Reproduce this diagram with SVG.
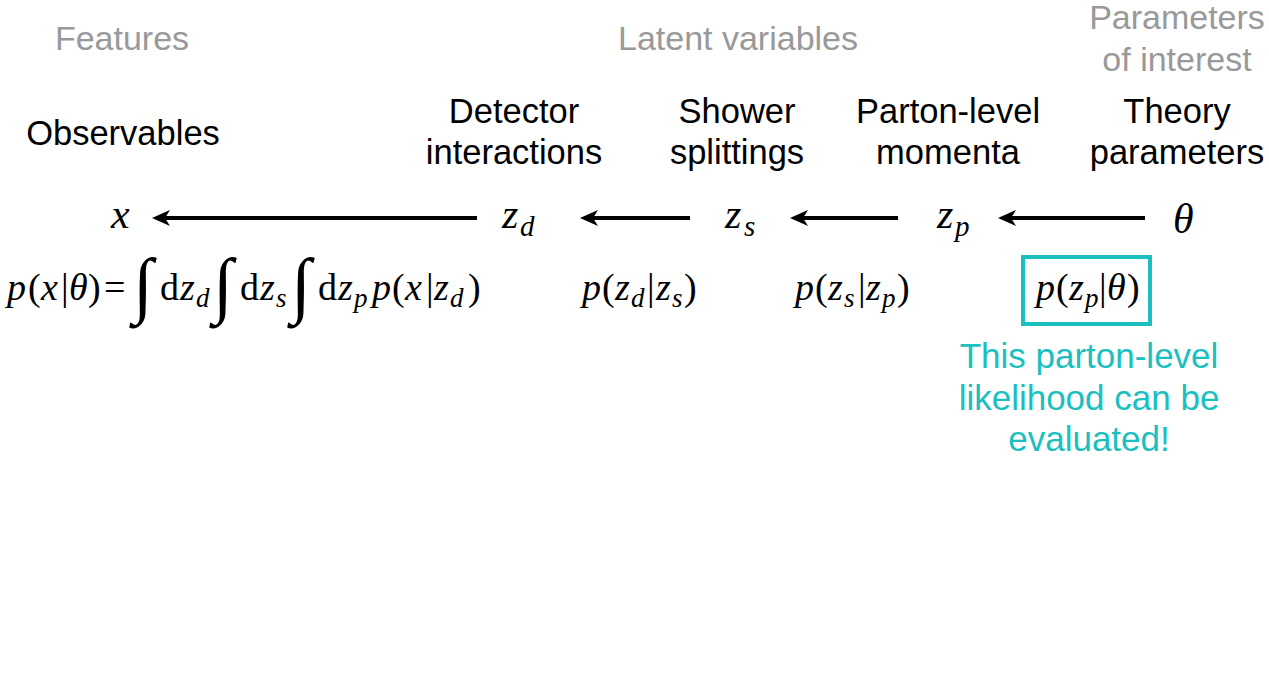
<svg xmlns="http://www.w3.org/2000/svg" width="1269" height="680" viewBox="0 0 1269 680">
<style>
.hdr{font-family:"Liberation Sans",Arial,sans-serif;font-size:34px;fill:#999999;text-anchor:middle}
.lbl{font-family:"Liberation Sans",Arial,sans-serif;font-size:34.5px;fill:#000;text-anchor:middle}
.note{font-family:"Liberation Sans",Arial,sans-serif;font-size:35px;fill:#1BBFBF;text-anchor:middle}
.m{font-family:"Liberation Serif","Times New Roman",serif;fill:#000}
.mt{font-size:42px}
.mf{font-size:38px}
.i{font-style:italic}
.sb{font-size:27px;font-style:italic}
.sbt{font-size:29px;font-style:italic}
.int{font-family:"Liberation Serif","Times New Roman",serif;font-size:73px;fill:#000}
.arr{stroke:#000;stroke-width:4;fill:none;marker-end:url(#ah)}
</style>
<defs>
<marker id="ah" markerUnits="userSpaceOnUse" viewBox="-8 -10 22 20" refX="0" refY="0" markerWidth="22" markerHeight="20" orient="auto">
<path d="M12,0 L-6,-8 L-1,0 L-6,8 Z" fill="#000"/>
</marker>
</defs>
<rect width="1269" height="680" fill="#fff"/>

<g id="headers">
<text class="hdr" x="122" y="50">Features</text>
<text class="hdr" x="738" y="50">Latent variables</text>
<text class="hdr" x="1177" y="29">Parameters</text>
<text class="hdr" x="1177" y="71">of interest</text>
</g>

<g id="node-x">
<text class="lbl" x="123" y="145">Observables</text>
<text class="m mt i" x="111" y="228">x</text>
</g>
<g id="node-zd">
<text class="lbl" x="514" y="123">Detector</text>
<text class="lbl" x="514" y="164">interactions</text>
<text class="m mt"><tspan class="i" x="502" y="228">z</tspan><tspan class="sbt" x="520" y="236">d</tspan></text>
</g>
<g id="node-zs">
<text class="lbl" x="737" y="123">Shower</text>
<text class="lbl" x="737" y="164">splittings</text>
<text class="m mt"><tspan class="i" x="725" y="228">z</tspan><tspan class="sbt" x="744" y="236">s</tspan></text>
</g>
<g id="node-zp">
<text class="lbl" x="948" y="123">Parton-level</text>
<text class="lbl" x="948" y="164">momenta</text>
<text class="m mt"><tspan class="i" x="937" y="228">z</tspan><tspan class="sbt" x="955" y="236">p</tspan></text>
</g>
<g id="node-theta">
<text class="lbl" x="1177" y="123">Theory</text>
<text class="lbl" x="1177" y="164">parameters</text>
<text class="m mt i" x="1173" y="233">θ</text>
</g>

<g id="connectors">
<line class="arr" x1="477" y1="218" x2="164" y2="218"/>
<line class="arr" x1="690" y1="218" x2="592" y2="218"/>
<line class="arr" x1="898" y1="218" x2="802" y2="218"/>
<line class="arr" x1="1145" y1="218" x2="1010" y2="218"/>
</g>

<g id="formula-main">
<text class="m mf"><tspan class="i" x="7" y="300">p</tspan><tspan x="28">(</tspan><tspan class="i" x="41">x</tspan><tspan x="61">|</tspan><tspan class="i" x="69">θ</tspan><tspan x="88">)</tspan><tspan x="104">=</tspan></text>
<text class="int" x="133" y="309">∫</text>
<text class="m mf"><tspan x="160" y="300">d</tspan><tspan class="i" x="180">z</tspan><tspan class="sb" x="196" y="307">d</tspan></text>
<text class="int" x="213" y="309">∫</text>
<text class="m mf"><tspan x="240" y="300">d</tspan><tspan class="i" x="260">z</tspan><tspan class="sb" x="276" y="307">s</tspan></text>
<text class="int" x="291" y="309">∫</text>
<text class="m mf"><tspan x="318" y="300">d</tspan><tspan class="i" x="338">z</tspan><tspan class="sb" x="354" y="307">p</tspan></text>
<text class="m mf"><tspan class="i" x="372" y="300">p</tspan><tspan x="392">(</tspan><tspan class="i" x="405">x</tspan><tspan x="426">|</tspan><tspan class="i" x="434">z</tspan><tspan class="sb" x="450" y="307">d</tspan><tspan x="468" y="300">)</tspan></text>
</g>

<g id="formula-zd-zs">
<text class="m mf"><tspan class="i" x="582" y="300">p</tspan><tspan x="602">(</tspan><tspan class="i" x="615">z</tspan><tspan class="sb" x="631" y="307">d</tspan><tspan x="647" y="300">|</tspan><tspan class="i" x="656">z</tspan><tspan class="sb" x="672" y="307">s</tspan><tspan x="684" y="300">)</tspan></text>
</g>
<g id="formula-zs-zp">
<text class="m mf"><tspan class="i" x="795" y="300">p</tspan><tspan x="815">(</tspan><tspan class="i" x="828">z</tspan><tspan class="sb" x="844" y="307">s</tspan><tspan x="858" y="300">|</tspan><tspan class="i" x="866">z</tspan><tspan class="sb" x="882" y="307">p</tspan><tspan x="897" y="300">)</tspan></text>
</g>
<g id="formula-zp-theta">
<rect x="1023" y="257" width="127" height="67" fill="none" stroke="#1BBFBF" stroke-width="4"/>
<text class="m mf"><tspan class="i" x="1036" y="300">p</tspan><tspan x="1056">(</tspan><tspan class="i" x="1069">z</tspan><tspan class="sb" x="1085" y="307">p</tspan><tspan x="1099" y="300">|</tspan><tspan class="i" x="1107">θ</tspan><tspan x="1127">)</tspan></text>
</g>

<g id="note">
<text class="note" x="1089" y="368">This parton-level</text>
<text class="note" x="1089" y="410">likelihood can be</text>
<text class="note" x="1089" y="451">evaluated!</text>
</g>
</svg>
